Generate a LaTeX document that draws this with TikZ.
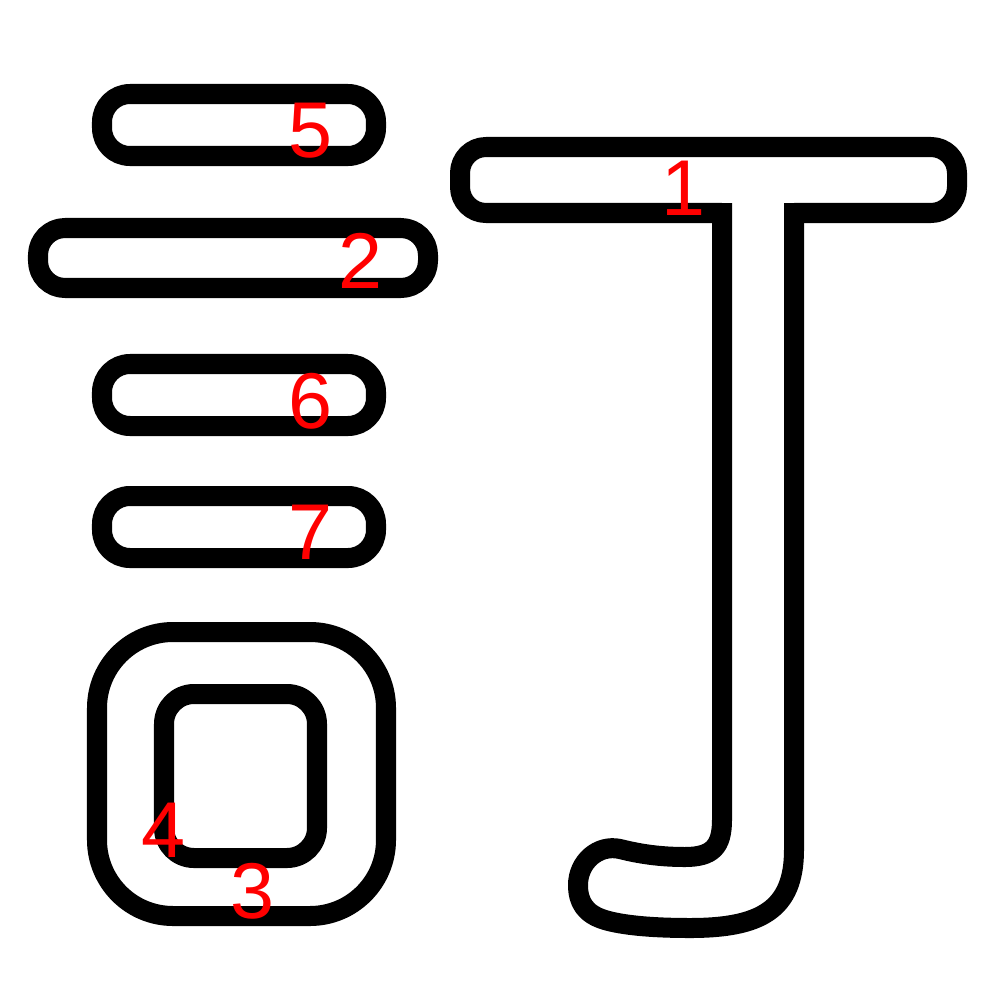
\documentclass[tikz,border=0pt]{standalone}
\usepackage{fontspec}
\setmainfont{Liberation Sans}
\begin{document}
\begin{tikzpicture}[x=0.01cm,y=-0.01cm,
  outl/.style={draw=black,fill=white,line width=0.2cm,line join=round},
  num/.style={text=red,font=\fontsize{22.5}{22.5}\selectfont,anchor=base,inner sep=0pt}]
\useasboundingbox[fill=white] (0,0) rectangle (1000,1000);
% stroke 5
\draw[outl,rounded corners=0.28cm] (102,94) rectangle (376,156);
% stroke 2
\draw[outl,rounded corners=0.27cm] (38,228) rectangle (428,288);
% stroke 6
\draw[outl,rounded corners=0.28cm] (102,364) rectangle (376,426);
% stroke 7
\draw[outl,rounded corners=0.28cm] (102,496) rectangle (376,558);
% strokes 3 and 4
\draw[outl,rounded corners=0.76cm] (97,632) rectangle (386,916);
\draw[outl,rounded corners=0.30cm] (164,694) rectangle (317,858);
% stroke 1 bar
\draw[outl,rounded corners=0.26cm] (460,147) rectangle (957,213);
% hook stroke: white fill then open outline
\fill[white] (794,199) -- (794,850) .. controls (794,910) and (760,928) .. (690,928)
  .. controls (650,928) and (622,925) .. (605,920)
  .. controls (585,914) and (578,902) .. (578,885)
  .. controls (578,862) and (598,844) .. (620,849)
  .. controls (640,854) and (660,857) .. (685,857)
  .. controls (712,857) and (722,847) .. (722,820) -- (722,199) -- cycle;
\draw[line width=0.2cm,line join=round] (794,203) -- (794,850) .. controls (794,910) and (760,928) .. (690,928)
  .. controls (650,928) and (622,925) .. (605,920)
  .. controls (585,914) and (578,902) .. (578,885)
  .. controls (578,862) and (598,844) .. (620,849)
  .. controls (640,854) and (660,857) .. (685,857)
  .. controls (712,857) and (722,847) .. (722,820) -- (722,203);
% labels
\node[num] (n1) at (683,215) {1};
\node[num] (n2) at (360,288) {2};
\node[num] (n3) at (253,918) {3};
\node[num] (n4) at (164,857) {4};
\node[num] (n5) at (310,157) {5};
\node[num] (n6) at (310,428) {6};
\node[num] (n7) at (310,559) {7};
\end{tikzpicture}
\end{document}
